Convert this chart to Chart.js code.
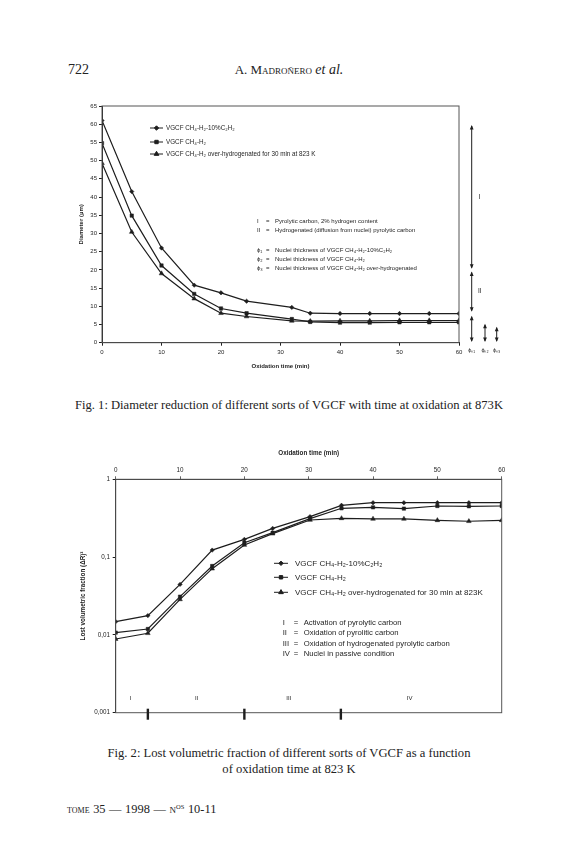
<!DOCTYPE html>
<html><head><meta charset="utf-8">
<script src="https://cdn.jsdelivr.net/npm/chart.js@4/dist/chart.umd.min.js"></script>
<style>
html,body{margin:0;padding:0;background:#fff;}
body{width:576px;height:864px;position:relative;overflow:hidden;font-family:"Liberation Serif","Times New Roman",serif;color:#222;}
.t{position:absolute;white-space:nowrap;line-height:16px;}
canvas{position:absolute;}
.sc{font-variant:small-caps;}
</style></head><body>
<div class="t" style="left:68px;top:62px;font-size:14px;">722</div>
<div class="t" style="left:0;width:578px;text-align:center;top:62px;font-size:13px;"><span class="sc">A. Madroñero</span> <i style="font-size:14px;">et al.</i></div>

<canvas id="c1" width="480" height="285" style="left:60px;top:95px;"></canvas>

<div class="t" style="left:0;width:578px;text-align:center;top:397px;font-size:12.6px;">Fig. 1: Diameter reduction of different sorts of VGCF with time at oxidation at 873K</div>

<canvas id="c2" width="470" height="290" style="left:60px;top:440px;"></canvas>

<div class="t" style="left:0;width:578px;text-align:center;top:745px;font-size:12.6px;">Fig. 2: Lost volumetric fraction of different sorts of VGCF as a function<br>of oxidation time at 823 K</div>
<div class="t" style="left:67px;top:799px;font-size:12.4px;word-spacing:0.5px;"><span class="sc" style="font-size:11.5px;">tome</span> 35 — 1998 — <span style="font-size:9px;">N<sup style="font-size:6.5px;">OS</sup></span> 10-11</div>

<script>
// ---------- DATA ----------
const seriesNames = [
  'VGCF CH₄-H₂-10%C₂H₂',
  'VGCF CH₄-H₂',
  'VGCF CH₄-H₂ over-hydrogenated for 30 min at 823 K'
];
const seriesNames2 = [
  'VGCF CH₄-H₂-10%C₂H₂',
  'VGCF CH₄-H₂',
  'VGCF CH₄-H₂ over-hydrogenated for 30 min at 823K'
];
// Fig. 1 – diameter (µm) vs oxidation time (min)
const time1 = [0, 5, 10, 15.5, 20, 24.3, 31.9, 35, 40, 45, 50, 55, 60];
const diamC2H2 = [61.0, 41.5, 26.0, 15.8, 13.7, 11.4, 9.7, 8.1, 8.0, 8.0, 8.0, 8.0, 8.0];
const diamCH4 = [54.8, 34.9, 21.2, 13.4, 9.4, 8.1, 6.5, 5.7, 5.5, 5.5, 5.6, 5.6, 5.6];
const diamOverH = [49.3, 30.4, 19.0, 12.1, 8.1, 7.2, 6.0, 5.9, 6.0, 6.0, 6.1, 6.1, 6.1];
const xTicks1 = [0, 10, 20, 30, 40, 50, 60];
const yTicks1 = [0, 5, 10, 15, 20, 25, 30, 35, 40, 45, 50, 55, 60, 65];
// zones drawn beside Fig. 1 (diameter ranges, µm)
const zoneLabels1 = ['I', 'II'];
const zoneRanges1 = [[20.6, 59.5], [8.8, 19.3]];
const nucleiLabels1 = ['ϕₙ₁', 'ϕₙ₂', 'ϕₙ₃'];
const nucleiRanges1 = [[0.5, 7.1], [0.5, 4.9], [0.5, 4.1]];
const notes1Sym = ['I', 'II', 'ϕ₁', 'ϕ₂', 'ϕ₃'];
const notes1Text = [
  'Pyrolytic carbon, 2% hydrogen content',
  'Hydrogenated (diffusion from nuclei) pyrolytic carbon',
  'Nuclei thickness of VGCF CH₄-H₂-10%C₂H₂',
  'Nuclei thickness of VGCF CH₄-H₂',
  'Nuclei thickness of VGCF CH₄-H₂ over-hydrogenated'
];

// Fig. 2 – lost volumetric fraction vs oxidation time (min)
const time2 = [0, 5, 10, 15, 20, 24.4, 30.2, 35.1, 40, 44.8, 50, 54.9, 60];
const lostC2H2 = [0.0148, 0.0177, 0.0446, 0.123, 0.169, 0.234, 0.331, 0.463, 0.50, 0.50, 0.50, 0.50, 0.50];
const lostCH4 = [0.0107, 0.0119, 0.031, 0.0768, 0.153, 0.206, 0.312, 0.424, 0.436, 0.42, 0.454, 0.45, 0.454];
const lostOverH = [0.00885, 0.0105, 0.0286, 0.071, 0.143, 0.20, 0.30, 0.315, 0.31, 0.31, 0.297, 0.289, 0.297];
const xTicks2 = [0, 10, 20, 30, 40, 50, 60];
const yTicks2 = [0.001, 0.01, 0.1, 1];
const yTickLabels2 = ['0,001', '0,01', '0,1', '1'];
const stageBounds2 = [5, 20, 35];
const stageLabels2 = ['I', 'II', 'III', 'IV'];
const stageLabelPos2 = [2.3, 12.6, 26.9, 45.7];
const notes2Sym = ['I', 'II', 'III', 'IV'];
const notes2Text = [
  'Activation of pyrolytic carbon',
  'Oxidation of pyrolitic carbon',
  'Oxidation of hydrogenated pyrolytic carbon',
  'Nuclei in passive condition'
];

// ---------- STYLE ----------
const INK = '#1e1e1e';
const SANS = '"Liberation Sans", Arial, sans-serif';
const pointStyles = ['rectRot', 'rect', 'triangle'];
const pointRadii = [2.2, 2.4, 2.7];

function mkSets(xs, ys, names) {
  return ys.map((arr, i) => ({
    label: names[i],
    data: arr.map((v, j) => ({x: xs[j], y: v})),
    borderColor: INK, backgroundColor: INK,
    borderWidth: 1.2, pointStyle: pointStyles[i], pointRadius: pointRadii[i],
    pointBorderWidth: 0.5, pointBackgroundColor: INK, pointBorderColor: INK,
    tension: 0, fill: false
  }));
}

function marker(ctx, ds, x, y) {
  ctx.fillStyle = INK; ctx.strokeStyle = INK;
  Chart.helpers.drawPoint(ctx, {pointStyle: ds.pointStyle, radius: ds.pointRadius, rotation: 0, borderWidth: 0.5}, x, y);
}

function vArrow(ctx, x, y0, y1, h) {
  ctx.beginPath(); ctx.moveTo(x, y0); ctx.lineTo(x, y1); ctx.stroke();
  ctx.beginPath(); ctx.moveTo(x, y1 - 1); ctx.lineTo(x - 1.9, y1 + h); ctx.lineTo(x + 1.9, y1 + h); ctx.closePath(); ctx.fill();
  ctx.beginPath(); ctx.moveTo(x, y0 + 1); ctx.lineTo(x - 1.9, y0 - h); ctx.lineTo(x + 1.9, y0 - h); ctx.closePath(); ctx.fill();
}

const fig1Extras = {
  id: 'fig1Extras',
  afterDraw(chart) {
    const {ctx, chartArea: a, scales: {y}} = chart;
    ctx.save();
    ctx.strokeStyle = '#555'; ctx.lineWidth = 1;
    ctx.strokeRect(a.left, a.top, a.right - a.left, a.bottom - a.top);
    // legend
    const rows = [22, 36, 48];
    ctx.font = '6.3px ' + SANS; ctx.textBaseline = 'middle'; ctx.textAlign = 'left';
    chart.data.datasets.forEach((ds, i) => {
      const yy = a.top + rows[i];
      ctx.strokeStyle = INK; ctx.lineWidth = 1;
      ctx.beginPath(); ctx.moveTo(a.left + 48, yy); ctx.lineTo(a.left + 61, yy); ctx.stroke();
      marker(ctx, ds, a.left + 54.5, yy);
      ctx.fillStyle = INK; ctx.fillText(ds.label, a.left + 64, yy);
    });
    // notes
    const nRows = [115.7, 124.7, 144, 153.3, 162.3];
    ctx.font = '6px ' + SANS;
    notes1Sym.forEach((s, i) => {
      const yy = a.top + nRows[i];
      ctx.fillText(s, a.left + 155, yy);
      ctx.fillText('=', a.left + 164, yy);
      ctx.fillText(notes1Text[i], a.left + 173, yy);
    });
    // zone arrows
    ctx.strokeStyle = INK; ctx.fillStyle = INK; ctx.lineWidth = 1;
    const xz = a.right + 12.7;
    zoneRanges1.forEach((r, i) => {
      vArrow(ctx, xz, y.getPixelForValue(r[0]), y.getPixelForValue(r[1]), 3.5);
      ctx.font = '6.5px ' + SANS; ctx.textAlign = 'center';
      ctx.fillText(zoneLabels1[i], xz + 8, y.getPixelForValue((r[0] + r[1]) / 2));
    });
    const xn = [a.right + 12.7, a.right + 26, a.right + 37.7];
    nucleiRanges1.forEach((r, i) => {
      vArrow(ctx, xn[i], y.getPixelForValue(r[0]), y.getPixelForValue(r[1]), 3.5);
      ctx.font = '5.5px ' + SANS; ctx.textAlign = 'center';
      ctx.fillText(nucleiLabels1[i], xn[i], a.bottom + 8);
    });
    ctx.restore();
  }
};

const fig2Extras = {
  id: 'fig2Extras',
  afterDraw(chart) {
    const {ctx, chartArea: a, scales: {x}} = chart;
    ctx.save();
    ctx.strokeStyle = '#555'; ctx.lineWidth = 1;
    ctx.strokeRect(a.left, a.top, a.right - a.left, a.bottom - a.top);
    const rows = [84, 98, 113];
    ctx.font = '8px ' + SANS; ctx.textBaseline = 'middle'; ctx.textAlign = 'left';
    chart.data.datasets.forEach((ds, i) => {
      const yy = a.top + rows[i];
      ctx.strokeStyle = INK; ctx.lineWidth = 1;
      ctx.beginPath(); ctx.moveTo(a.left + 158.3, yy); ctx.lineTo(a.left + 172.3, yy); ctx.stroke();
      marker(ctx, ds, a.left + 165.3, yy);
      ctx.fillStyle = INK; ctx.fillText(ds.label, a.left + 179.3, yy);
    });
    const nRows = [143.4, 154, 164.4, 175];
    ctx.font = '7.7px ' + SANS;
    notes2Sym.forEach((s, i) => {
      const yy = a.top + nRows[i];
      ctx.fillText(s, a.left + 167, yy);
      ctx.fillText('=', a.left + 178, yy);
      ctx.fillText(notes2Text[i], a.left + 188, yy);
    });
    // stage bounds
    ctx.fillStyle = INK;
    stageBounds2.forEach(v => {
      const px = x.getPixelForValue(v);
      ctx.fillRect(px - 1.2, a.bottom - 4, 2.4, 11);
    });
    ctx.font = '6px ' + SANS; ctx.textAlign = 'center';
    stageLabels2.forEach((s, i) => ctx.fillText(s, x.getPixelForValue(stageLabelPos2[i]), a.bottom - 14.4));
    ctx.restore();
  }
};

const tickFont = (s) => ({family: SANS, size: s});
const titleFont = (s) => ({family: SANS, size: s, weight: 'bold'});

new Chart(document.getElementById('c1'), {
  type: 'line',
  data: {datasets: mkSets(time1, [diamC2H2, diamCH4, diamOverH], seriesNames)},
  options: {
    responsive: false, animation: false, events: [],
    layout: {padding: {left: 0, top: 11, right: 81, bottom: 0}},
    plugins: {legend: {display: false}, tooltip: {enabled: false}},
    scales: {
      x: {
        type: 'linear', min: 0, max: 60,
        afterBuildTicks: s => { s.ticks = xTicks1.map(v => ({value: v})); },
        ticks: {font: tickFont(6), color: INK, padding: 3, maxRotation: 0, autoSkip: false},
        grid: {drawOnChartArea: false, tickLength: 3, color: INK},
        border: {color: INK, width: 1},
        title: {display: true, text: 'Oxidation time (min)', font: titleFont(6), color: INK, padding: {top: 0, bottom: 10}},
        afterFit: s => { s.height = 37.3; }
      },
      y: {
        type: 'linear', min: 0, max: 65,
        afterBuildTicks: s => { s.ticks = yTicks1.map(v => ({value: v})); },
        ticks: {font: tickFont(6), color: INK, padding: 2, autoSkip: false},
        grid: {drawOnChartArea: false, tickLength: 3, color: INK},
        border: {color: INK, width: 1},
        title: {display: true, text: 'Diameter (µm)', font: titleFont(6), color: INK, padding: {top: 18, bottom: 0}},
        afterFit: s => { s.width = 42; }
      }
    }
  },
  plugins: [fig1Extras]
});

new Chart(document.getElementById('c2'), {
  type: 'line',
  data: {datasets: mkSets(time2, [lostC2H2, lostCH4, lostOverH], seriesNames2)},
  options: {
    responsive: false, animation: false, events: [],
    layout: {padding: {left: 0, top: 0, right: 28.3, bottom: 17.3}},
    plugins: {legend: {display: false}, tooltip: {enabled: false}},
    scales: {
      x: {
        type: 'linear', position: 'top', min: 0, max: 60,
        afterBuildTicks: s => { s.ticks = xTicks2.map(v => ({value: v})); },
        ticks: {font: tickFont(6.3), color: INK, padding: 2, maxRotation: 0, autoSkip: false},
        grid: {drawOnChartArea: false, tickLength: 3, color: '#666'},
        border: {color: INK, width: 1},
        title: {display: true, text: 'Oxidation time (min)', font: titleFont(6.3), color: INK, padding: {top: 9.4, bottom: 0}},
        afterFit: s => { s.height = 39.3; }
      },
      y: {
        type: 'logarithmic', min: 0.001, max: 1,
        afterBuildTicks: s => { s.ticks = yTicks2.map(v => ({value: v})); },
        ticks: {font: tickFont(6.3), color: INK, padding: 2.7, autoSkip: false,
          callback: (v) => { const k = yTicks2.findIndex(t => Math.abs(t - v) < t * 1e-6); return k >= 0 ? yTickLabels2[k] : ''; }},
        grid: {drawOnChartArea: false, tickLength: 3, color: INK},
        border: {color: INK, width: 1},
        title: {display: true, text: 'Lost volumetric fraction (ΔR)³', font: titleFont(6.3), color: INK, padding: {top: 19, bottom: 0}},
        afterFit: s => { s.width = 55.7; }
      }
    }
  },
  plugins: [fig2Extras]
});
</script>
</body></html>
